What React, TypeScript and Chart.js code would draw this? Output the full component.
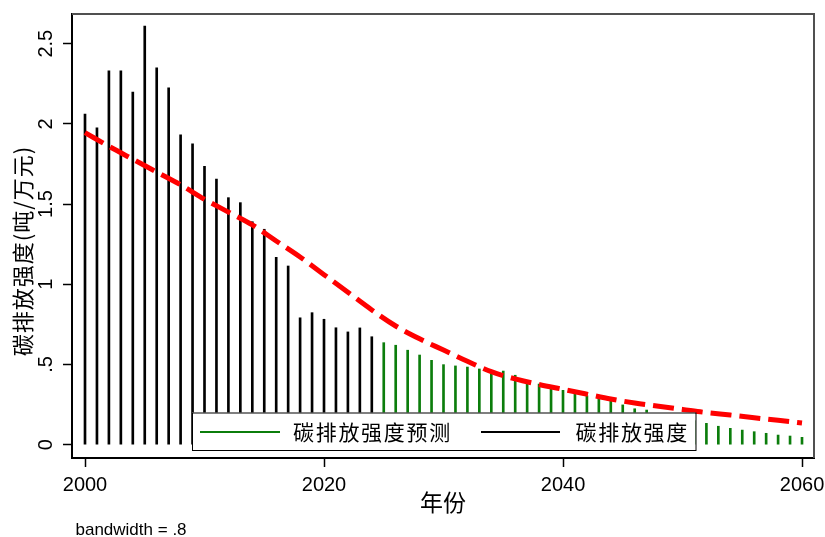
import React, { useEffect, useRef } from "react";
import { Chart, registerables } from "chart.js";

Chart.register(...registerables);

// ---- data ----
const observedYears = [2000, 2001, 2002, 2003, 2004, 2005, 2006, 2007, 2008, 2009, 2010, 2011, 2012, 2013, 2014, 2015, 2016, 2017, 2018, 2019, 2020, 2021, 2022, 2023, 2024];
const observedValues = [2.061, 1.976, 2.33, 2.33, 2.199, 2.61, 2.35, 2.224, 1.931, 1.875, 1.736, 1.656, 1.54, 1.509, 1.39, 1.343, 1.168, 1.114, 0.791, 0.823, 0.782, 0.729, 0.703, 0.728, 0.673];

const forecastYears = [2025, 2026, 2027, 2028, 2029, 2030, 2031, 2032, 2033, 2034, 2035, 2036, 2037, 2038, 2039, 2040, 2041, 2042, 2043, 2044, 2045, 2046, 2047, 2048, 2049, 2050, 2051, 2052, 2053, 2054, 2055, 2056, 2057, 2058, 2059, 2060];
const forecastValues = [0.636, 0.62, 0.589, 0.559, 0.526, 0.499, 0.491, 0.484, 0.472, 0.449, 0.459, 0.433, 0.401, 0.378, 0.355, 0.339, 0.32, 0.305, 0.289, 0.271, 0.248, 0.224, 0.216, 0.195, 0.18, 0.165, 0.15, 0.133, 0.115, 0.102, 0.091, 0.081, 0.071, 0.06, 0.054, 0.046];

const smoothYears = [2000, 2002, 2004, 2006, 2008, 2010, 2012, 2014, 2016, 2018, 2020, 2022, 2024, 2026, 2028, 2030, 2032, 2034, 2036, 2038, 2040, 2042, 2044, 2046, 2048, 2050, 2052, 2054, 2056, 2058, 2060];
const smoothValues = [1.945, 1.86, 1.78, 1.7, 1.62, 1.53, 1.45, 1.37, 1.27, 1.17, 1.06, 0.95, 0.84, 0.74, 0.66, 0.59, 0.52, 0.455, 0.41, 0.375, 0.345, 0.315, 0.285, 0.26, 0.24, 0.22, 0.2, 0.185, 0.168, 0.152, 0.135];

const xTicks = [2000, 2020, 2040, 2060];
const xTickLabels = ["2000", "2020", "2040", "2060"];
const yTicks = [0, 0.5, 1, 1.5, 2, 2.5];
const yTickLabels = ["0", ".5", "1", "1.5", "2", "2.5"];

const seriesNames = ["碳排放强度预测", "碳排放强度"];
const xTitle = "年份";
const yTitle = "碳排放强度(吨/万元)";
const note = "bandwidth = .8";

// ---- styles ----
const GREEN = "#0b7d0b";
const RED = "#ff0000";
const LATIN = '"Liberation Sans", Arial, "Noto Sans CJK SC", sans-serif';
const CJK = '"Noto Sans CJK SC", "Liberation Sans", sans-serif';

const annotations = {
  id: "annotations",
  afterDatasetsDraw(chart: any) {
    const ctx = chart.ctx as CanvasRenderingContext2D;
    ctx.save();
    // legend box
    const bx = 192, by = 412.5, bw = 503.5, bh = 37.5;
    ctx.fillStyle = "#fff";
    ctx.fillRect(bx, by, bw, bh);
    ctx.strokeStyle = "#000";
    ctx.lineWidth = 1;
    ctx.strokeRect(bx + 0.5, by + 0.5, bw, bh);
    const ly = 432;
    ctx.lineWidth = 2;
    ctx.strokeStyle = GREEN;
    ctx.beginPath();
    ctx.moveTo(200, ly);
    ctx.lineTo(280, ly);
    ctx.stroke();
    ctx.strokeStyle = "#000";
    ctx.beginPath();
    ctx.moveTo(481, ly);
    ctx.lineTo(560, ly);
    ctx.stroke();
    ctx.fillStyle = "#000";
    ctx.font = `21px ${CJK}`;
    (ctx as any).letterSpacing = "1.7px";
    ctx.textAlign = "left";
    ctx.textBaseline = "middle";
    ctx.fillText(seriesNames[0], 293, ly);
    ctx.fillText(seriesNames[1], 575.5, ly);
    ctx.restore();
  },
  afterDraw(chart: any) {
    const ctx = chart.ctx as CanvasRenderingContext2D;
    const { left, right, top, bottom } = chart.chartArea;
    ctx.save();
    // frame top & right
    ctx.strokeStyle = "#505050";
    ctx.lineWidth = 2;
    ctx.beginPath();
    ctx.moveTo(left, top);
    ctx.lineTo(right, top);
    ctx.lineTo(right, bottom);
    ctx.stroke();
    // x title
    ctx.fillStyle = "#000";
    ctx.font = `23px ${CJK}`;
    ctx.textAlign = "center";
    ctx.textBaseline = "middle";
    ctx.fillText(xTitle, (left + right) / 2, 502.5);
    // y title
    ctx.save();
    ctx.translate(23, 251);
    ctx.rotate(-Math.PI / 2);
    ctx.font = `22px ${CJK}`;
    (ctx as any).letterSpacing = "1px";
    ctx.fillText(yTitle, 0, 0);
    ctx.restore();
    // note
    ctx.font = `17px ${LATIN}`;
    ctx.textAlign = "left";
    ctx.textBaseline = "alphabetic";
    ctx.fillText(note, 75.5, 535);
    ctx.restore();
  },
};

export default function App() {
  const ref = useRef<HTMLCanvasElement>(null);
  useEffect(() => {
    const canvas = ref.current!;
    const chart = new Chart(canvas, {
      type: "bar",
      data: {
        datasets: [
          {
            type: "line",
            label: "smooth",
            data: smoothYears.map((x, i) => ({ x, y: smoothValues[i] })),
            borderColor: RED,
            borderWidth: 5,
            borderDash: [21, 8],
            borderCapStyle: "butt",
            pointRadius: 0,
            cubicInterpolationMode: "monotone",
            fill: false,
            order: 0,
          } as any,
          {
            type: "bar",
            label: seriesNames[0],
            data: forecastYears.map((x, i) => ({ x, y: forecastValues[i] })),
            backgroundColor: GREEN,
            barThickness: 2,
            grouped: false,
            order: 1,
          } as any,
          {
            type: "bar",
            label: seriesNames[1],
            data: observedYears.map((x, i) => ({ x, y: observedValues[i] })),
            backgroundColor: "#000",
            barThickness: 2,
            grouped: false,
            order: 1,
          } as any,
        ],
      },
      options: {
        responsive: false,
        animation: false,
        events: [],
        layout: { padding: { top: 14, right: 11, left: 0, bottom: 0 } },
        plugins: { legend: { display: false }, tooltip: { enabled: false } },
        scales: {
          x: {
            type: "linear",
            min: 1998.912,
            max: 2061.004,
            offset: false,
            afterBuildTicks: (s: any) => {
              s.ticks = xTicks.map((v) => ({ value: v }));
            },
            ticks: {
              autoSkip: false,
              minRotation: 0,
              maxRotation: 0,
              padding: 6,
              color: "#000",
              font: { family: LATIN, size: 20 },
              callback: (v: any) => xTickLabels[xTicks.indexOf(Number(v))] ?? "",
            },
            grid: {
              display: true,
              drawOnChartArea: false,
              drawTicks: true,
              tickLength: 9,
              tickColor: "#000",
              tickWidth: 1.5,
              offset: false,
            },
            border: { display: true, color: "#000", width: 2 },
            afterFit: (s: any) => {
              s.height = 79;
              s.paddingLeft = 0;
              s.paddingRight = 0;
            },
          } as any,
          y: {
            type: "linear",
            min: -0.083,
            max: 2.685,
            afterBuildTicks: (s: any) => {
              s.ticks = yTicks.map((v) => ({ value: v }));
            },
            ticks: {
              autoSkip: false,
              minRotation: 90,
              maxRotation: 90,
              crossAlign: "center",
              padding: 3,
              color: "#000",
              font: { family: LATIN, size: 20 },
              callback: (v: any) => yTickLabels[yTicks.indexOf(Number(v))] ?? "",
            },
            grid: {
              display: true,
              drawOnChartArea: false,
              drawTicks: true,
              tickLength: 9,
              tickColor: "#000",
              tickWidth: 1.5,
            },
            border: { display: true, color: "#000", width: 2 },
            afterFit: (s: any) => {
              s.width = 72;
              s.paddingTop = 0;
              s.paddingBottom = 0;
            },
          } as any,
        },
      },
      plugins: [annotations],
    });
    return () => chart.destroy();
  }, []);

  return (
    <div style={{ position: "absolute", left: 0, top: 0, width: 825, height: 537, background: "#fff" }}>
      <canvas ref={ref} width={825} height={537} style={{ display: "block" }} />
    </div>
  );
}
